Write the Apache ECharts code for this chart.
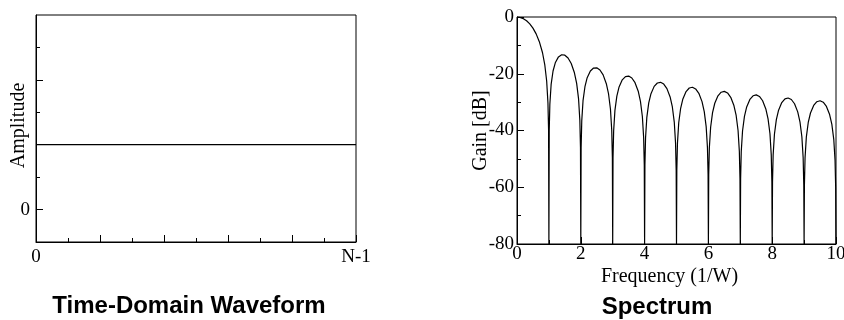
<!DOCTYPE html>
<html>
<head>
<meta charset="utf-8">
<script src="https://cdn.jsdelivr.net/npm/echarts@6/dist/echarts.min.js"></script>
<style>html,body{margin:0;padding:0;background:#fff}#c{width:844px;height:320px}</style>
</head>
<body>
<div id="c"></div>
<script>
// Time-domain waveform (rectangular window)
const timeIndex = [0, 10];
const amplitude = [1, 1];
const timeTickLabels = ['0', 'N-1'];

// Spectrum (gain in dB vs frequency in 1/W)
const freqs = [
  0, 0.01, 0.03, 0.07, 0.13, 0.2, 0.3, 0.4, 0.5, 0.6, 0.7, 0.8, 0.87, 0.93, 0.97, 0.99,
  1, 1.01, 1.03, 1.07, 1.13, 1.2, 1.3, 1.4, 1.5, 1.6, 1.7, 1.8, 1.87, 1.93, 1.97, 1.99,
  2, 2.01, 2.03, 2.07, 2.13, 2.2, 2.3, 2.4, 2.5, 2.6, 2.7, 2.8, 2.87, 2.93, 2.97, 2.99,
  3, 3.01, 3.03, 3.07, 3.13, 3.2, 3.3, 3.4, 3.5, 3.6, 3.7, 3.8, 3.87, 3.93, 3.97, 3.99,
  4, 4.01, 4.03, 4.07, 4.13, 4.2, 4.3, 4.4, 4.5, 4.6, 4.7, 4.8, 4.87, 4.93, 4.97, 4.99,
  5, 5.01, 5.03, 5.07, 5.13, 5.2, 5.3, 5.4, 5.5, 5.6, 5.7, 5.8, 5.87, 5.93, 5.97, 5.99,
  6, 6.01, 6.03, 6.07, 6.13, 6.2, 6.3, 6.4, 6.5, 6.6, 6.7, 6.8, 6.87, 6.93, 6.97, 6.99,
  7, 7.01, 7.03, 7.07, 7.13, 7.2, 7.3, 7.4, 7.5, 7.6, 7.7, 7.8, 7.87, 7.93, 7.97, 7.99,
  8, 8.01, 8.03, 8.07, 8.13, 8.2, 8.3, 8.4, 8.5, 8.6, 8.7, 8.8, 8.87, 8.93, 8.97, 8.99,
  9, 9.01, 9.03, 9.07, 9.13, 9.2, 9.3, 9.4, 9.5, 9.6, 9.7, 9.8, 9.87, 9.93, 9.97, 9.99,
  10
];
const gainDb = [
  0, 0, -0.01, -0.07, -0.24, -0.58, -1.33, -2.42, -3.92, -5.94, -8.69, -12.6, -16.75, -22.54, -30.21, -39.9,
  -80, -40.1, -30.73, -23.76, -19.02, -16.14, -14.06, -13.31, -13.46, -14.47, -16.39, -19.66, -23.40, -28.88, -36.36, -45.99,
  -80, -46.08, -36.62, -29.49, -24.57, -21.40, -19.02, -17.99, -17.90, -18.68, -20.41, -23.50, -27.12, -32.51, -39.93, -49.53,
  -80, -49.58, -40.10, -32.92, -27.87, -24.66, -22.15, -21.01, -20.82, -21.51, -23.15, -26.15, -29.72, -35.06, -42.45, -52.03,
  -80, -52.08, -42.58, -35.36, -30.28, -27.02, -24.45, -23.25, -23.01, -23.64, -25.23, -28.18, -31.71, -37.03, -44.40, -53.97,
  -80, -54.01, -44.50, -37.27, -32.17, -28.87, -26.27, -25.03, -24.75, -25.35, -26.90, -29.82, -33.34, -38.63, -45.99, -55.56,
  -80, -55.59, -46.08, -38.84, -33.71, -30.40, -27.77, -26.51, -26.20, -26.77, -28.30, -31.20, -34.70, -39.99, -47.34, -56.90,
  -80, -56.93, -47.41, -40.16, -35.03, -31.70, -29.05, -27.77, -27.44, -28.00, -29.51, -32.40, -35.88, -41.16, -48.50, -58.06,
  -80, -58.09, -48.57, -41.31, -36.17, -32.83, -30.17, -28.87, -28.53, -29.07, -30.57, -33.44, -36.92, -42.19, -49.53, -59.09,
  -80, -59.11, -49.59, -42.33, -37.17, -33.83, -31.16, -29.85, -29.50, -30.03, -31.52, -34.38, -37.85, -43.11, -50.45, -60.00,
  -80
];

const titles = ['Time-Domain Waveform', 'Spectrum'];

const serif = '"Liberation Serif", "Times New Roman", serif';
const sans = '"Liberation Sans", Arial, sans-serif';
const blk = '#000';

const chart = echarts.init(document.getElementById('c'), null, {renderer: 'canvas'});

const baseLabel = {color: blk, fontFamily: serif, fontSize: 19};
const nameStyle = {color: blk, fontFamily: serif, fontSize: 20};

chart.setOption({
  animation: false,
  backgroundColor: '#fff',
  grid: [
    {left: 36, top: 15, width: 320, height: 227, show: true, borderColor: blk, borderWidth: 1, backgroundColor: 'transparent', containLabel: false, outerBoundsMode: 'none'},
    {left: 517, top: 17, width: 319, height: 227, show: true, borderColor: blk, borderWidth: 1, backgroundColor: 'transparent', containLabel: false, outerBoundsMode: 'none'}
  ],
  xAxis: [
    {
      gridIndex: 0, type: 'value', min: 0, max: 10, interval: 2,
      axisLine: {show: true, onZero: false, lineStyle: {color: blk, width: 1}},
      axisTick: {show: true, inside: true, length: 7, lineStyle: {color: blk}},
      minorTick: {show: true, splitNumber: 2, length: 4, lineStyle: {color: blk}},
      splitLine: {show: false}, minorSplitLine: {show: false},
      axisLabel: Object.assign({}, baseLabel, {margin: 6, formatter: function (v) {
        if (v === timeIndex[0]) return timeTickLabels[0];
        if (v === timeIndex[timeIndex.length - 1]) return timeTickLabels[1];
        return '';
      }})
    },
    {
      gridIndex: 1, type: 'value', min: 0, max: 10, interval: 2,
      name: 'Frequency (1/W)', nameLocation: 'middle', nameGap: 23, nameMoveOverlap: false,
      nameTextStyle: Object.assign({}, nameStyle, {padding: [0, 14, 0, 0]}),
      axisLine: {show: true, onZero: false, lineStyle: {color: blk, width: 1}},
      axisTick: {show: true, inside: true, length: 7, lineStyle: {color: blk}},
      minorTick: {show: true, splitNumber: 2, length: 4, lineStyle: {color: blk}},
      splitLine: {show: false}, minorSplitLine: {show: false},
      axisLabel: Object.assign({}, baseLabel, {margin: 1})
    }
  ],
  yAxis: [
    {
      gridIndex: 0, type: 'value', min: -0.5, max: 3, position: 'left',
      name: 'Amplitude', nameLocation: 'middle', nameGap: 7, nameRotate: 90, nameMoveOverlap: false,
      nameTextStyle: Object.assign({}, nameStyle, {padding: [0, 0, 0, 6]}),
      axisLine: {show: true, onZero: false, lineStyle: {color: blk, width: 1}},
      axisTick: {show: true, inside: true, length: 7, lineStyle: {color: blk}, customValues: [0, 1, 2]},
      splitLine: {show: false},
      axisLabel: Object.assign({}, baseLabel, {margin: 6, customValues: [0]})
    },
    {
      gridIndex: 0, type: 'value', min: -0.5, max: 3, position: 'left',
      axisLine: {show: false, onZero: false},
      axisTick: {show: true, inside: true, length: 4, lineStyle: {color: blk}, customValues: [0.5, 1.5, 2.5]},
      splitLine: {show: false},
      axisLabel: {show: false}
    },
    {
      gridIndex: 1, type: 'value', min: -80, max: 0, interval: 20, position: 'left',
      name: 'Gain [dB]', nameLocation: 'middle', nameGap: 26, nameRotate: 90, nameMoveOverlap: false,
      nameTextStyle: nameStyle,
      axisLine: {show: true, onZero: false, lineStyle: {color: blk, width: 1}},
      axisTick: {show: true, inside: true, length: 7, lineStyle: {color: blk}},
      minorTick: {show: true, splitNumber: 2, length: 4, lineStyle: {color: blk}},
      splitLine: {show: false}, minorSplitLine: {show: false},
      axisLabel: Object.assign({}, baseLabel, {margin: 3})
    }
  ],
  series: [
    {
      type: 'line', xAxisIndex: 0, yAxisIndex: 0, showSymbol: false, silent: true,
      lineStyle: {color: blk, width: 1.2},
      data: timeIndex.map((t, i) => [t, amplitude[i]])
    },
    {
      type: 'line', xAxisIndex: 1, yAxisIndex: 2, showSymbol: false, silent: true, clip: true,
      lineStyle: {color: blk, width: 1.2},
      data: freqs.map((f, i) => [f, gainDb[i]])
    }
  ],
  graphic: [
    {type: 'text', x: 189, y: 306, style: {text: titles[0], align: 'center', verticalAlign: 'middle', font: 'bold 24px ' + sans, fill: blk}},
    {type: 'text', x: 657, y: 307, style: {text: titles[1], align: 'center', verticalAlign: 'middle', font: 'bold 24px ' + sans, fill: blk}}
  ]
});
</script>
</body>
</html>
